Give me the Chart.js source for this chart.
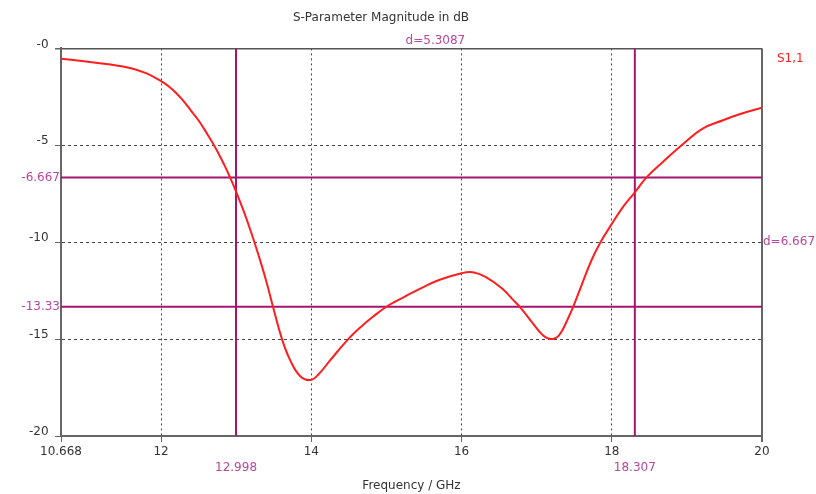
<!DOCTYPE html>
<html>
<head>
<meta charset="utf-8">
<script src="https://cdn.jsdelivr.net/npm/chart.js@4.4.1/dist/chart.umd.min.js"></script>
<style>
  html, body { margin: 0; padding: 0; background: #fff; }
  #wrap { width: 816px; height: 494px; }
</style>
</head>
<body>
<div id="wrap"><canvas id="chart"></canvas></div>
<script>
// S1,1 magnitude
const freq = [10.668, 11.0, 11.3, 11.6, 11.8, 12.0, 12.1, 12.2, 12.3, 12.4, 12.5, 12.6, 12.72, 12.84, 12.92, 13.0, 13.1,
  13.2, 13.3, 13.4, 13.49, 13.61, 13.72, 13.85, 13.99, 14.1, 14.25, 14.48, 14.66, 14.82, 15.0, 15.2, 15.45, 15.7,
  16.0, 16.15, 16.32, 16.54, 16.68, 16.79, 16.95, 17.08, 17.19, 17.3, 17.41, 17.49, 17.6, 17.73, 17.85, 17.99, 18.15,
  18.31, 18.46, 18.68, 18.93, 19.21, 19.48, 19.7, 20.0];
const s11 = [-0.53, -0.68, -0.82, -1.02, -1.28, -1.69, -1.95, -2.3, -2.72, -3.22, -3.72, -4.32, -5.1, -6.0, -6.667, -7.4, -8.4,
  -9.5, -10.7, -12.0, -13.33, -15.0, -16.1, -16.9, -17.11, -16.8, -16.1, -15.05, -14.37, -13.85, -13.33, -12.9, -12.4, -11.95,
  -11.6, -11.55, -11.79, -12.39, -12.95, -13.4, -14.19, -14.79, -15.0, -14.79, -14.0, -13.3, -12.2, -10.93, -10.0, -9.12, -8.18,
  -7.41, -6.667, -5.86, -5.0, -4.14, -3.71, -3.40, -3.06];

const xTicks = [10.668, 12, 14, 16, 18, 20];
const yTicks = [0, -5, -10, -15, -20];
const xMarkers = [12.998, 18.307];
const yMarkers = [-6.667, -13.33];
const xMarkerLabels = ['12.998', '18.307'];
const yMarkerLabels = ['-6.667', '-13.33'];
const xDeltaLabel = 'd=5.3087';
const yDeltaLabel = 'd=6.667';
const seriesName = 'S1,1';

const FONT = 'DejaVu Sans';
const textColor = '#333';
const markerColor = '#a3156f';
const markerText = '#b8479f';
const curveColor = '#ff1e1e';
const none = 'rgba(0,0,0,0)';

const xMin = xTicks[0], xMax = xTicks[xTicks.length - 1];
const yMax = yTicks[0], yMin = yTicks[yTicks.length - 1];

const tv = c => (c && c.tick) ? c.tick.value : undefined;
const isXMarker = v => xMarkers.includes(v);
const isYMarker = v => yMarkers.includes(v);

const datasets = [{
  data: freq.map((f, i) => ({ x: f, y: s11[i] })),
  borderColor: curveColor, borderWidth: 2, pointRadius: 0,
  tension: 0.4, order: 0
}];
xMarkers.forEach(m => datasets.push({
  data: [{ x: m, y: yMax }, { x: m, y: yMin }],
  borderColor: markerColor, borderWidth: 2, pointRadius: 0, order: 1
}));
yMarkers.forEach(m => datasets.push({
  data: [{ x: xMin, y: m }, { x: xMax, y: m }],
  borderColor: markerColor, borderWidth: 2, pointRadius: 0, order: 1
}));

// marker deltas and series name
const labelsPlugin = {
  id: 'markerLabels',
  afterDraw(chart) {
    const { ctx, chartArea, scales } = chart;
    ctx.save();
    ctx.font = '12px "' + FONT + '"';
    ctx.textBaseline = 'middle';
    ctx.fillStyle = markerText;
    ctx.textAlign = 'center';
    const mx = (scales.x.getPixelForValue(xMarkers[0]) + scales.x.getPixelForValue(xMarkers[1])) / 2;
    ctx.fillText(xDeltaLabel, mx, chartArea.top - 8);
    ctx.textAlign = 'left';
    const my = (scales.y.getPixelForValue(yMarkers[0]) + scales.y.getPixelForValue(yMarkers[1])) / 2;
    ctx.fillText(yDeltaLabel, chartArea.right + 1, my);
    ctx.fillStyle = curveColor;
    ctx.fillText(seriesName, chartArea.right + 15, chartArea.top + 10);
    ctx.restore();
  }
};

new Chart(document.getElementById('chart'), {
  type: 'line',
  data: { datasets },
  options: {
    responsive: true,
    maintainAspectRatio: false,
    animation: false,
    layout: { padding: { right: 54 } },
    plugins: {
      legend: { display: false },
      tooltip: { enabled: false },
      title: {
        display: true,
        text: 'S-Parameter Magnitude in dB',
        color: textColor,
        font: { family: FONT, size: 12, weight: 'normal' },
        padding: { top: 11, bottom: 23 }
      }
    },
    scales: {
      x: {
        type: 'linear',
        min: xMin, max: xMax,
        afterBuildTicks: s => { s.ticks = xTicks.concat(xMarkers).sort((a, b) => a - b).map(v => ({ value: v })); },
        afterFit: s => { s.height = 58; },
        ticks: {
          autoSkip: false, maxRotation: 0, padding: 1,
          font: { family: FONT, size: 12, lineHeight: 1.4 },
          color: c => isXMarker(tv(c)) ? markerText : textColor,
          callback: v => isXMarker(v) ? ['', xMarkerLabels[xMarkers.indexOf(v)]] : String(v)
        },
        grid: {
          tickLength: 6,
          color: c => {
            const v = tv(c);
            if (v === xMax) return '#666';
            if (v === xMin || isXMarker(v)) return none;
            return '#444';
          },
          lineWidth: c => tv(c) === xMax ? 2 : 1,
          tickColor: c => isXMarker(tv(c)) ? none : '#666'
        },
        border: {
          color: '#666', width: 2,
          dash: c => {
            const v = tv(c);
            return (xTicks.includes(v) && v !== xMin && v !== xMax) ? [2, 3] : [];
          }
        },
        title: {
          display: true, text: 'Frequency / GHz', color: textColor,
          font: { family: FONT, size: 12 }, padding: { top: 0, bottom: 1 }
        }
      },
      y: {
        type: 'linear',
        min: yMin, max: yMax,
        afterBuildTicks: s => { s.ticks = yTicks.concat(yMarkers).sort((a, b) => a - b).map(v => ({ value: v })); },
        afterFit: s => { s.width = 61; },
        ticks: {
          autoSkip: false, padding: -5,
          font: c => ({ family: FONT, size: 12, lineHeight: isYMarker(tv(c)) ? 1.2 : 0.67 }),
          color: c => isYMarker(tv(c)) ? markerText : textColor,
          callback: v => isYMarker(v) ? yMarkerLabels[yMarkers.indexOf(v)] : [(v === 0 ? '-0' : String(v)) + '   ', '']
        },
        grid: {
          tickLength: 6,
          color: c => {
            const v = tv(c);
            if (v === yMax) return '#555';
            if (v === yMin || isYMarker(v)) return none;
            return '#444';
          },
          lineWidth: c => tv(c) === yMax ? 1.5 : 1,
          tickColor: c => isYMarker(tv(c)) ? none : '#666'
        },
        border: {
          color: '#666', width: 2,
          dash: c => {
            const v = tv(c);
            return (yTicks.includes(v) && v !== yMin && v !== yMax) ? [3, 3] : [];
          }
        }
      }
    }
  },
  plugins: [labelsPlugin]
});
</script>
</body>
</html>
